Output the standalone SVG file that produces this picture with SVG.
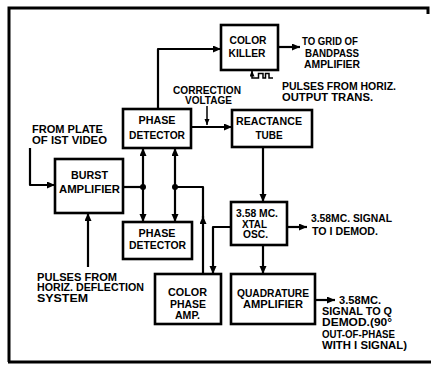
<svg xmlns="http://www.w3.org/2000/svg" width="431" height="365" viewBox="0 0 431 365">
<style>
  .box { fill: #fff; stroke: #000; stroke-width: 2.6; }
  .wire { fill: none; stroke: #000; stroke-width: 2.2; stroke-linejoin: round; }
  .thin { fill: none; stroke: #000; stroke-width: 1.5; }
  .frame { fill: none; stroke: #000; stroke-width: 3; }
  text { font-family: "Liberation Sans", Arial, sans-serif; font-weight: bold; font-size: 10px; fill: #000; }
  .c { text-anchor: middle; }
</style>
<defs>
  <marker id="ah" markerUnits="userSpaceOnUse" markerWidth="9" markerHeight="8" refX="8" refY="3.5" orient="auto">
    <path d="M0,0 L8,3.5 L0,7 z" fill="#000"/>
  </marker>
  <marker id="ahs" markerUnits="userSpaceOnUse" markerWidth="7" markerHeight="6" refX="6" refY="2.5" orient="auto">
    <path d="M0,0 L6,2.5 L0,5 z" fill="#000"/>
  </marker>
</defs>
<rect width="431" height="365" fill="#fff"/>
<g id="frame">
  <path class="frame" d="M9,362 V8 H428 V14"/>
  <path class="frame" d="M8,362 H431"/>
</g>

<g id="connectors">
  <path class="wire" d="M158,109 V49 H221" marker-end="url(#ah)"/>
  <path class="wire" d="M191,127 H232" marker-end="url(#ah)"/>
  <path class="thin" d="M207,106 V125" marker-end="url(#ahs)"/>
  <path class="wire" d="M278,47 H300" marker-end="url(#ah)"/>
  <path class="thin" d="M273,78 H269 V73.5 H265.5 V78 H263 V73.5 H258.5 V78 H252 V70.5" marker-end="url(#ahs)"/>
  <path class="wire" d="M263,147 V202" marker-end="url(#ah)"/>
  <path class="wire" d="M287,227 H307" marker-end="url(#ah)"/>
  <path class="wire" d="M263,245 V274" marker-end="url(#ah)"/>
  <path class="wire" d="M315,300 H335" marker-end="url(#ah)"/>
  <path class="wire" d="M231,227 H213 V274" marker-end="url(#ah)"/>
  <path class="wire" d="M203,274 V216" marker-end="url(#ah)"/>
  <path class="wire" d="M203,218 V187 H175"/>
  <path class="wire" d="M123,187 H143"/>
  <path class="wire" d="M143,187 V148" marker-end="url(#ah)"/>
  <path class="wire" d="M143,187 V222" marker-end="url(#ah)"/>
  <path class="wire" d="M175,187 V148" marker-end="url(#ah)"/>
  <path class="wire" d="M175,187 V222" marker-end="url(#ah)"/>
  <circle cx="143" cy="187" r="3" fill="#000"/>
  <circle cx="175" cy="187" r="3" fill="#000"/>
  <path class="wire" d="M30,148 V185 H55" marker-end="url(#ah)"/>
  <path class="wire" d="M88,267 V213" marker-end="url(#ah)"/>
</g>

<g id="color-killer">
  <rect class="box" x="221" y="25" width="57" height="45"/>
  <text class="c" x="248" y="44" textLength="37" lengthAdjust="spacingAndGlyphs">COLOR</text>
  <text class="c" x="247" y="57" textLength="37" lengthAdjust="spacingAndGlyphs">KILLER</text>
</g>
<g id="phase-detector-1">
  <rect class="box" x="123" y="109" width="68" height="39"/>
  <text class="c" x="157" y="124" textLength="37" lengthAdjust="spacingAndGlyphs">PHASE</text>
  <text class="c" x="157" y="139" textLength="56" lengthAdjust="spacingAndGlyphs">DETECTOR</text>
</g>
<g id="reactance-tube">
  <rect class="box" x="232" y="110" width="80" height="37"/>
  <text class="c" x="269" y="125" textLength="66" lengthAdjust="spacingAndGlyphs">REACTANCE</text>
  <text class="c" x="269" y="139">TUBE</text>
</g>
<g id="burst-amplifier">
  <rect class="box" x="55" y="159" width="68" height="54"/>
  <text class="c" x="89.5" y="179" textLength="37" lengthAdjust="spacingAndGlyphs">BURST</text>
  <text class="c" x="89.5" y="193" textLength="61" lengthAdjust="spacingAndGlyphs">AMPLIFIER</text>
</g>
<g id="phase-detector-2">
  <rect class="box" x="123" y="222" width="69" height="37"/>
  <text class="c" x="157" y="237" textLength="37" lengthAdjust="spacingAndGlyphs">PHASE</text>
  <text class="c" x="157.5" y="249" textLength="57" lengthAdjust="spacingAndGlyphs">DETECTOR</text>
</g>
<g id="color-phase-amp">
  <rect class="box" x="155" y="274" width="66" height="50"/>
  <text class="c" x="187.5" y="296" textLength="39" lengthAdjust="spacingAndGlyphs">COLOR</text>
  <text class="c" x="188" y="308" textLength="36" lengthAdjust="spacingAndGlyphs">PHASE</text>
  <text class="c" x="187.5" y="319" textLength="25" lengthAdjust="spacingAndGlyphs">AMP.</text>
</g>
<g id="xtal-osc">
  <rect class="box" x="231" y="202" width="56" height="43"/>
  <text class="c" x="257" y="217" textLength="42" lengthAdjust="spacingAndGlyphs">3.58 MC.</text>
  <text class="c" x="254.5" y="228" textLength="25" lengthAdjust="spacingAndGlyphs">XTAL</text>
  <text class="c" x="255.5" y="238" textLength="25" lengthAdjust="spacingAndGlyphs">OSC.</text>
</g>
<g id="quadrature-amplifier">
  <rect class="box" x="231" y="274" width="84" height="50"/>
  <text class="c" x="273" y="297" textLength="72" lengthAdjust="spacingAndGlyphs">QUADRATURE</text>
  <text class="c" x="273" y="308" textLength="60" lengthAdjust="spacingAndGlyphs">AMPLIFIER</text>
</g>

<g id="labels">
  <text x="173" y="94" textLength="68" lengthAdjust="spacingAndGlyphs">CORRECTION</text>
  <text x="185" y="104" textLength="47" lengthAdjust="spacingAndGlyphs">VOLTAGE</text>
  <text x="32" y="133" textLength="71" lengthAdjust="spacingAndGlyphs">FROM PLATE</text>
  <text x="32" y="144" textLength="75" lengthAdjust="spacingAndGlyphs">OF IST VIDEO</text>
  <text x="302" y="45" textLength="56" lengthAdjust="spacingAndGlyphs">TO GRID OF</text>
  <text x="305" y="57" textLength="54" lengthAdjust="spacingAndGlyphs">BANDPASS</text>
  <text x="304" y="68" textLength="56" lengthAdjust="spacingAndGlyphs">AMPLIFIER</text>
  <text x="282" y="90" textLength="114" lengthAdjust="spacingAndGlyphs">PULSES FROM HORIZ.</text>
  <text x="282" y="101" textLength="91" lengthAdjust="spacingAndGlyphs">OUTPUT TRANS.</text>
  <text x="311" y="222" textLength="81" lengthAdjust="spacingAndGlyphs">3.58MC. SIGNAL</text>
  <text x="312" y="235" textLength="66" lengthAdjust="spacingAndGlyphs">TO I DEMOD.</text>
  <text x="339" y="304" textLength="42" lengthAdjust="spacingAndGlyphs">3.58MC.</text>
  <text x="322" y="315" textLength="70" lengthAdjust="spacingAndGlyphs">SIGNAL TO Q</text>
  <text x="322" y="326" textLength="70" lengthAdjust="spacingAndGlyphs">DEMOD.(90°</text>
  <text x="322" y="338" textLength="73" lengthAdjust="spacingAndGlyphs">OUT-OF-PHASE</text>
  <text x="322" y="349" textLength="85" lengthAdjust="spacingAndGlyphs">WITH I SIGNAL)</text>
  <text x="37" y="281" textLength="80" lengthAdjust="spacingAndGlyphs">PULSES FROM</text>
  <text x="37" y="291" textLength="107" lengthAdjust="spacingAndGlyphs">HORIZ. DEFLECTION</text>
  <text x="37" y="302" textLength="51" lengthAdjust="spacingAndGlyphs">SYSTEM</text>
</g>
</svg>
